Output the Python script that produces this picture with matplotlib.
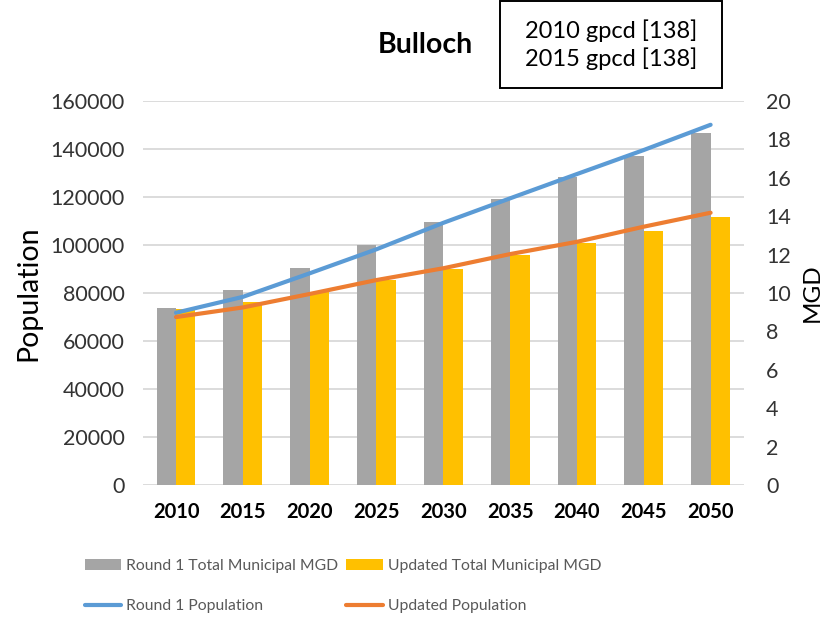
import numpy as np
import matplotlib.pyplot as plt

plt.rcParams['font.family'] = ['Lato', 'DejaVu Sans']

years = ['2010', '2015', '2020', '2025', '2030', '2035', '2040', '2045', '2050']
round1_mgd = [9.20, 10.16, 11.28, 12.48, 13.69, 14.90, 16.05, 17.11, 18.30]
updated_mgd = [9.17, 9.52, 10.07, 10.68, 11.25, 11.98, 12.62, 13.24, 13.94]
round1_pop = [71800, 78400, 88200, 98200, 109200, 119400, 129500, 139500, 150000]
updated_pop = [70000, 74000, 79600, 85400, 90300, 96200, 101300, 107600, 113400]

x = np.arange(len(years))
w = 0.29

fig = plt.figure(figsize=(8.3, 6.18), dpi=100)
ax = fig.add_axes([0.1718, 0.2147, 0.7246, 0.6223])

# left axis: grid + population ticks
ax.set_ylim(0, 160000)
ax.set_yticks(np.arange(0, 160001, 20000))
ax.set_xlim(-0.5, len(years) - 0.5)
ax.grid(axis='y', color='#d9d9d9', linewidth=1.3)
ax.set_axisbelow(True)
for s in ax.spines.values():
    s.set_visible(False)
ax.tick_params(axis='y', length=0, pad=13, labelsize=15.5, labelcolor='#333333')
ax.tick_params(axis='x', length=0, pad=12, labelsize=14.5)
ax.set_xticks(x)
ax.set_xticklabels(years, fontweight='bold')
ax.set_ylabel('Population', fontsize=20.5, labelpad=6)

# right axis: bars (MGD)
ax2 = ax.twinx()
ax2.set_ylim(0, 20)
ax2.set_yticks(np.arange(0, 21, 2))
b1 = ax2.bar(x - w / 2, round1_mgd, w, color='#a5a5a5', label='Round 1 Total Municipal MGD')
b2 = ax2.bar(x + w / 2, updated_mgd, w, color='#ffc000', label='Updated Total Municipal MGD')
for s in ax2.spines.values():
    s.set_visible(False)
ax2.tick_params(axis='y', length=0, pad=16, labelsize=15.5, labelcolor='#333333')
ax2.set_ylabel('MGD', fontsize=17.5, labelpad=8)

# lines on top, same scale as left axis
ax3 = ax.twinx()
ax3.set_ylim(ax.get_ylim())
ax3.set_yticks([])
for s in ax3.spines.values():
    s.set_visible(False)
l1, = ax3.plot(x, round1_pop, color='#5b9bd5', linewidth=3, solid_capstyle='round',
               label='Round 1 Population')
l2, = ax3.plot(x, updated_pop, color='#ed7d31', linewidth=3, solid_capstyle='round',
               label='Updated Population')

fig.text(0.512, 0.927, 'Bulloch', fontsize=20.5, fontweight='bold', ha='center', va='center')
fig.text(0.736, 0.928, '2010 gpcd [138]\n2015 gpcd [138]', fontsize=17, ha='center', va='center',
         linespacing=1.3)
fig.add_artist(plt.Rectangle((500 / 830, 1 - 88 / 618), 222 / 830, 87 / 618,
                             transform=fig.transFigure, fill=False, edgecolor='black',
                             linewidth=1.4))

fig.legend([b1, l1, b2, l2],
           ['Round 1 Total Municipal MGD', 'Round 1 Population',
            'Updated Total Municipal MGD', 'Updated Population'],
           ncol=2, loc='center left', bbox_to_anchor=(77 / 830, 1 - 586 / 618), frameon=False,
           borderpad=0, fontsize=11.3, labelcolor='#595959', handlelength=2.3, handletextpad=0.35,
           columnspacing=0.5, labelspacing=1.7)

fig.savefig('out.png', dpi=100)
